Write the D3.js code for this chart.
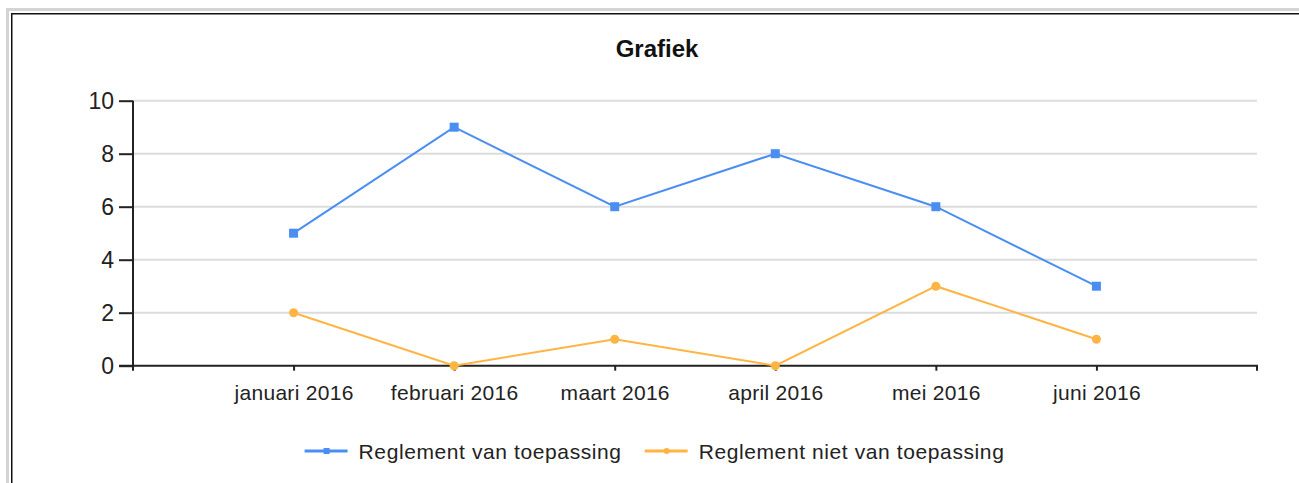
<!DOCTYPE html>
<html>
<head>
<meta charset="utf-8">
<script src="https://cdn.jsdelivr.net/npm/d3@7"></script>
<style>
    html, body { margin: 0; padding: 0; background: #fff; }
    svg { display: block; font-family: "Liberation Sans", Arial, sans-serif; }
</style>
</head>
<body>
<svg id="chart" width="1299" height="483"></svg>
<script>
var categories = ["januari 2016", "februari 2016", "maart 2016", "april 2016", "mei 2016", "juni 2016"];
var seriesNames = ["Reglement van toepassing", "Reglement niet van toepassing"];
var valuesVan = [5, 9, 6, 8, 6, 3];
var valuesNiet = [2, 0, 1, 0, 3, 1];
var yTicks = [0, 2, 4, 6, 8, 10];
var colors = ["#4a8ef2", "#ffb443"];

var W = 1299, H = 483;
var plot = { left: 133, right: 1257, top: 100.7, bottom: 365.7 };
var svg = d3.select("#chart");

// frame
svg.append("rect").attr("x", 7.5).attr("y", 9.5).attr("width", W).attr("height", H)
    .attr("fill", "none").attr("stroke", "#d4d4d4").attr("stroke-width", 3);
svg.append("rect").attr("x", 11.75).attr("y", 13.75).attr("width", W).attr("height", H)
    .attr("fill", "none").attr("stroke", "#111").attr("stroke-width", 1.5);

var x = d3.scalePoint().domain(categories).range([plot.left, plot.right]).padding(1);
var y = d3.scaleLinear().domain([0, 10]).range([plot.bottom, plot.top]);

// title
svg.append("text").attr("x", 657).attr("y", 57)
    .attr("text-anchor", "middle").attr("font-size", 24).attr("font-weight", "bold")
    .attr("fill", "#111").text("Grafiek");

// gridlines
svg.append("g").selectAll("line").data(yTicks.filter(function(d) { return d > 0; }))
    .join("line")
    .attr("x1", plot.left).attr("x2", plot.right)
    .attr("y1", function(d) { return y(d); }).attr("y2", function(d) { return y(d); })
    .attr("stroke", "#dcdcdc").attr("stroke-width", 2);

// y axis
var yAxis = svg.append("g").attr("transform", "translate(" + plot.left + ",0)")
    .call(d3.axisLeft(y).tickValues(yTicks).tickSize(14).tickPadding(5).tickSizeOuter(0));
yAxis.selectAll("text").attr("font-size", 23).attr("fill", "#222").attr("font-family", null);
yAxis.select(".domain").attr("stroke", "#222").attr("stroke-width", 2)
    .attr("d", "M0," + plot.top + "V" + (plot.bottom + 5));
yAxis.selectAll(".tick line").attr("stroke", "#222").attr("stroke-width", 2);

// x axis
var xAxis = svg.append("g").attr("transform", "translate(0," + plot.bottom + ")")
    .call(d3.axisBottom(x).tickSize(5).tickPadding(14).tickSizeOuter(0));
xAxis.selectAll("text").attr("font-size", 21).attr("letter-spacing", 0.3)
    .attr("fill", "#222").attr("font-family", null);
xAxis.select(".domain").attr("stroke", "#222").attr("stroke-width", 2)
    .attr("d", "M" + (plot.left - 14) + ",0H" + plot.right + "V5");
xAxis.selectAll(".tick line").attr("stroke", "#222").attr("stroke-width", 2);

// series
var series = [valuesVan, valuesNiet];
var line = d3.line()
    .x(function(d, i) { return x(categories[i]); })
    .y(function(d) { return y(d); });

series.forEach(function(vals, s) {
    svg.append("path").datum(vals)
        .attr("fill", "none").attr("stroke", colors[s]).attr("stroke-width", 2)
        .attr("d", line);
    var g = svg.append("g");
    if (s === 0) {
        g.selectAll("rect").data(vals).join("rect")
            .attr("x", function(d, i) { return x(categories[i]) - 4.5; })
            .attr("y", function(d) { return y(d) - 4.5; })
            .attr("width", 9).attr("height", 9).attr("fill", colors[s]);
    } else {
        g.selectAll("circle").data(vals).join("circle")
            .attr("cx", function(d, i) { return x(categories[i]); })
            .attr("cy", function(d) { return y(d); })
            .attr("r", 4.5).attr("fill", colors[s]);
    }
});

// legend
var legend = svg.append("g");
var lx = 0;
seriesNames.forEach(function(name, s) {
    var item = legend.append("g").attr("transform", "translate(" + lx + ",0)");
    item.append("line").attr("x1", 0).attr("x2", 43).attr("y1", 0).attr("y2", 0)
        .attr("stroke", colors[s]).attr("stroke-width", 3);
    if (s === 0) {
        item.append("rect").attr("x", 19).attr("y", -3).attr("width", 6).attr("height", 6).attr("fill", colors[s]);
    } else {
        item.append("circle").attr("cx", 22).attr("cy", 0).attr("r", 3).attr("fill", colors[s]);
    }
    var t = item.append("text").attr("x", 54).attr("y", 7.5).attr("font-size", 21)
        .attr("letter-spacing", 0.6).attr("fill", "#222").text(name);
    lx += 54 + t.node().getComputedTextLength() + 23;
});
var total = lx - 23;
legend.attr("transform", "translate(" + (654.5 - total / 2) + ",451)");
</script>
</body>
</html>
